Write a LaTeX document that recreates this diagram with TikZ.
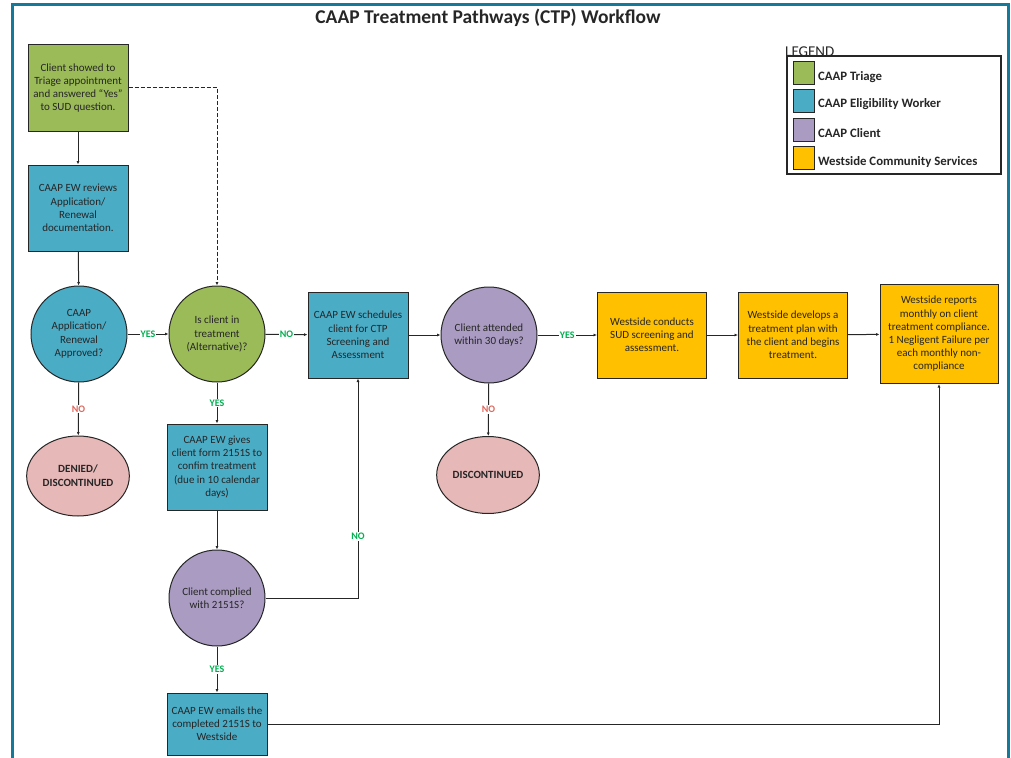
\documentclass[tikz,border=0pt]{standalone}
\usepackage{fontspec}
\setmainfont{Carlito}
\usetikzlibrary{arrows.meta,shapes.geometric}

\definecolor{triage}{HTML}{9BBB59}
\definecolor{worker}{HTML}{4BACC6}
\definecolor{client}{HTML}{A99BC1}
\definecolor{westside}{HTML}{FFC000}
\definecolor{ended}{HTML}{E6B8B7}
\definecolor{frame}{HTML}{17799A}
\definecolor{yesgreen}{HTML}{00B050}
\definecolor{nored}{HTML}{E0675A}

\begin{document}
\begin{tikzpicture}[x=1pt, y=-1pt,
    box/.style={rectangle, draw=black!85, line width=1pt, minimum width=100pt,
        minimum height=86pt, inner sep=1pt, align=center,
        font=\fontsize{11}{13.2}\selectfont, text=black!85},
    decision/.style={circle, draw=black!85, line width=1pt, minimum size=96pt,
        inner sep=1pt, align=center, font=\fontsize{11}{13.5}\selectfont, text=black!85},
    endnode/.style={ellipse, draw=black!85, line width=1pt, fill=ended,
        inner sep=1pt, align=center, font=\bfseries\fontsize{11}{14}\selectfont, text=black!85},
    swatch/.style={rectangle, draw=black!85, line width=1pt, minimum width=21pt,
        minimum height=23pt, inner sep=0pt},
    key/.style={anchor=west, font=\bfseries\fontsize{12.8}{14}\selectfont, text=black!85},
    edge/.style={line width=1pt, draw=black!85, -{Latex[length=3.5pt,width=3pt]}},
    yes/.style={fill=white, text=yesgreen, font=\bfseries\fontsize{10}{10}\selectfont, inner sep=1pt},
    no/.style={fill=white, text=nored, font=\bfseries\fontsize{10}{10}\selectfont, inner sep=1pt}
]
    \useasboundingbox (0,0) rectangle (1011,757);
    % page frame
    \draw[frame, line width=3pt] (12,760) -- (12,5) -- (1008,5) -- (1008,760);
    \node[font=\bfseries\fontsize{19.5}{22}\selectfont, text=black!85] (title) at (488,18)
        {CAAP Treatment Pathways (CTP) Workflow};

    % legend
    \node[anchor=south west, inner sep=0pt, font=\fontsize{15}{16}\selectfont, text=black!85]
        (legend) at (785,57) {LEGEND};
    \draw[line width=1.5pt, black!85] (787,56) rectangle (1001,174);
    \node[swatch, fill=triage] (k1) at (803.5,73.5) {};
    \node[swatch, fill=worker] (k2) at (803.5,101.5) {};
    \node[swatch, fill=client] (k3) at (803.5,130) {};
    \node[swatch, fill=westside] (k4) at (803.5,158) {};
    \node[key] at ([yshift=-4pt]k1.east) {CAAP Triage};
    \node[key] at ([yshift=-3pt]k2.east) {CAAP Eligibility Worker};
    \node[key] at ([yshift=-3pt]k3.east) {CAAP Client};
    \node[key] at ([yshift=-4pt]k4.east) {Westside Community Services};

    % flow nodes
    \node[box, fill=triage] (showed) at (78,88)
        {Client showed to\\Triage appointment\\and answered ``Yes''\\to SUD question.};
    \node[box, fill=worker] (review) at (78,208)
        {CAAP EW reviews\\Application/\\Renewal\\documentation.};
    \node[decision, fill=worker] (approved) at (79,334)
        {CAAP\\Application/\\Renewal\\Approved?};
    \node[endnode, minimum width=100pt, minimum height=80pt] (denied) at (78,476)
        {DENIED/\\DISCONTINUED};
    \node[decision, fill=triage] (intreat) at (217,334)
        {Is client in\\treatment\\(Alternative)?};
    \node[box, fill=worker] (gives) at (217,467)
        {CAAP EW gives\\client form 2151S to\\confim treatment\\(due in 10 calendar\\days)};
    \node[decision, fill=client] (complied) at (217,598)
        {Client complied\\with 2151S?};
    \node[box, fill=worker, minimum height=62pt] (emails) at (217,724)
        {CAAP EW emails the\\completed 2151S to\\Westside};
    \node[box, fill=worker] (sched) at (358,335)
        {CAAP EW schedules\\client for CTP\\Screening and\\Assessment};
    \node[decision, fill=client] (attended) at (489,335)
        {Client attended\\within 30 days?};
    \node[endnode, minimum width=89pt, minimum height=77pt] (discont) at (488,475)
        {DISCONTINUED};
    \node[box, fill=westside, minimum width=109pt] (conducts) at (652,335)
        {Westside conducts\\SUD screening and\\assessment.};
    \node[box, fill=westside, minimum width=109pt] (develops) at (793,335)
        {Westside develops a\\treatment plan with\\the client and begins\\treatment.};
    \node[box, fill=westside, minimum width=118pt, minimum height=99pt] (reports) at (939,334)
        {Westside reports\\monthly on client\\treatment compliance.\\1 Negligent Failure per\\each monthly non-\\compliance};

    % connectors
    \draw[edge] (showed) -- (review);
    \draw[edge] (review) -- (approved);
    \draw[edge, dash pattern=on 4pt off 2pt] (showed.east) -| (intreat.north);
    \draw[edge] (approved) -- node[yes] {YES} (intreat);
    \draw[edge] (approved) -- node[no] {NO} (denied);
    \draw[edge] (intreat) -- node[yes] {NO} (sched);
    \draw[edge] (intreat) -- node[yes] {YES} (gives);
    \draw[edge] (gives) -- (complied);
    \draw[edge] (complied.east) -| node[yes, pos=0.64] {NO} (sched.south);
    \draw[edge] (complied) -- node[yes] {YES} (emails);
    \draw[edge] (sched) -- (attended);
    \draw[edge] (attended) -- node[yes] {YES} (conducts);
    \draw[edge] (attended) -- node[no] {NO} (discont);
    \draw[edge] (conducts) -- (develops);
    \draw[edge] (develops) -- (reports);
    \draw[edge] (emails.east) -| (reports.south);
\end{tikzpicture}
\end{document}
